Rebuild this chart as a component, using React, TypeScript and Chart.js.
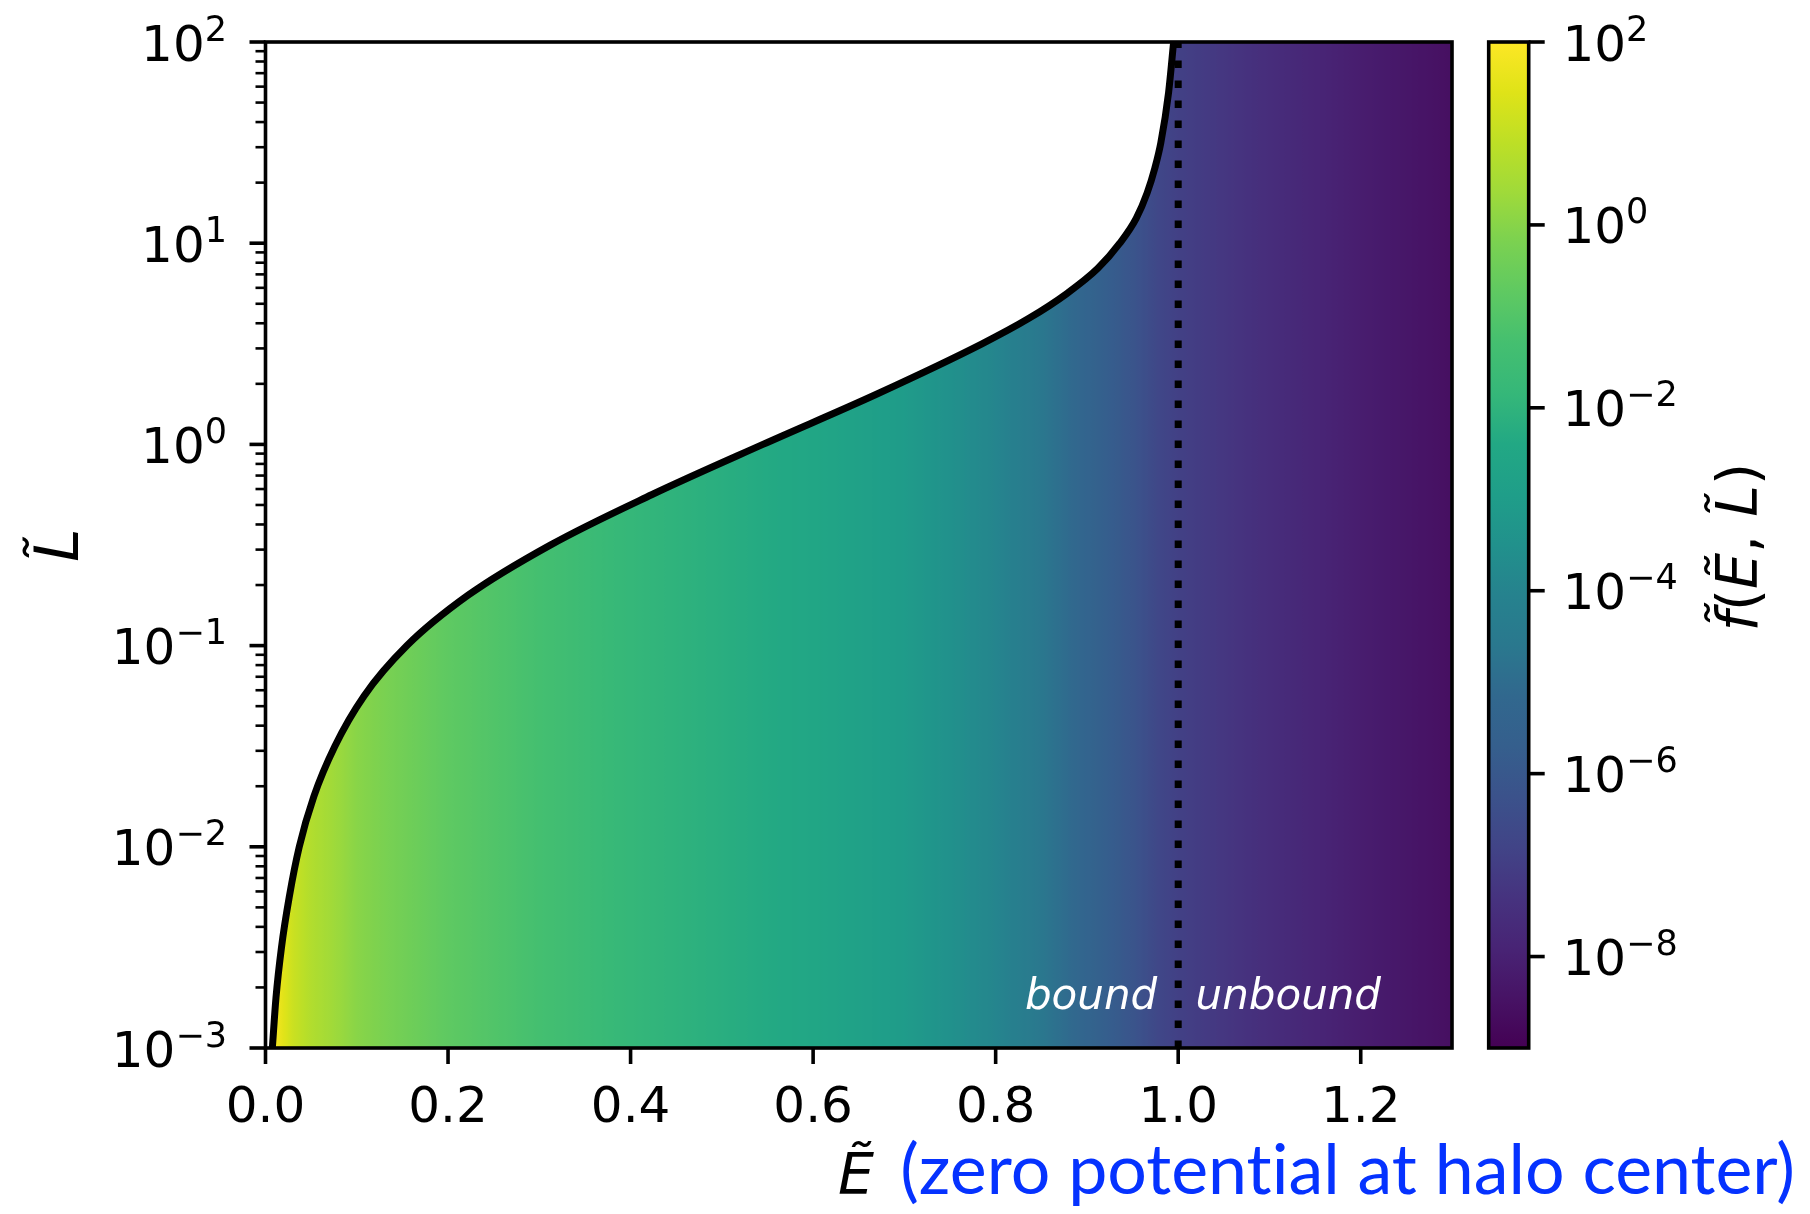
import React, { useEffect, useRef } from 'react';
import { Chart, registerables } from 'chart.js';

Chart.register(...registerables);

// ---------------- data ----------------
// boundary of allowed region: maximum angular momentum L~ at each energy E~
const curveE = [0.0075, 0.0115, 0.0175, 0.026, 0.037, 0.053, 0.076, 0.108, 0.155, 0.222, 0.312, 0.423, 0.545, 0.67, 0.785, 0.836, 0.878, 0.912, 0.936, 0.954, 0.966, 0.9745, 0.981, 0.9895, 0.995];
const curveL = [0.001, 0.00178, 0.00316, 0.00562, 0.01, 0.0178, 0.0316, 0.0562, 0.1, 0.178, 0.316, 0.562, 1, 1.78, 3.16, 4.22, 5.62, 7.5, 10, 13.3, 17.8, 23.7, 31.6, 56.2, 100];

// distribution function f~(E~) sampled along energy (colour of the map)
const gridE = [0.008, 0.015, 0.03, 0.05, 0.1, 0.2, 0.3, 0.4, 0.5, 0.6, 0.7, 0.75, 0.8, 0.85, 0.9, 0.95, 0.98, 1.0, 1.05, 1.1, 1.2, 1.3];
const gridF = [100, 47, 13, 4.8, 1.05, 0.18, 0.05, 0.014, 0.0066, 0.0031, 8.7e-4, 3.2e-4, 1.15e-4, 2.5e-5, 4.3e-6, 7.2e-7, 2.0e-7, 1.23e-7, 5.8e-8, 2.7e-8, 7.6e-9, 2.75e-9];

const xTicks = [0, 0.2, 0.4, 0.6, 0.8, 1.0, 1.2];
const xTickLabels = ['0.0', '0.2', '0.4', '0.6', '0.8', '1.0', '1.2'];
const yTickExponents = [-3, -2, -1, 0, 1, 2];
const cbarTickExponents = [-8, -6, -4, -2, 0, 2];

const boundaryE = 1.0;
const boundLabelE = 0.977;
const unboundLabelE = 1.019;
const labelL = 1.56e-3;

const xMin = 0, xMax = 1.3;
const yMin = 1e-3, yMax = 1e2;
const cMin = 1e-9, cMax = 1e2;

// ---------------- styling helpers ----------------
const VIRIDIS = ['#440154', '#471365', '#482475', '#46337f', '#414487', '#3b528b', '#355f8d', '#31688e', '#2a788e', '#26828e', '#21918c', '#1f9e89', '#22a884', '#35b779', '#44bf70', '#5ec962', '#7ad151', '#9fda3a', '#bddf26', '#dfe318', '#fde725'];

function hexToRgb(h: string): number[] {
  return [parseInt(h.slice(1, 3), 16), parseInt(h.slice(3, 5), 16), parseInt(h.slice(5, 7), 16)];
}
const VIR_RGB = VIRIDIS.map(hexToRgb);

function viridis(t: number): string {
  t = Math.min(1, Math.max(0, t));
  const n = VIR_RGB.length - 1;
  const p = t * n;
  const i = Math.min(n - 1, Math.floor(p));
  const f = p - i;
  const a = VIR_RGB[i], b = VIR_RGB[i + 1];
  const c = [0, 1, 2].map((k) => Math.round(a[k] + (b[k] - a[k]) * f));
  return `rgb(${c[0]},${c[1]},${c[2]})`;
}

const logGridF = gridF.map((v) => Math.log10(v));
function logFAt(e: number): number {
  if (e <= gridE[0]) return logGridF[0];
  const last = gridE.length - 1;
  if (e >= gridE[last]) return logGridF[last];
  for (let i = 0; i < last; i++) {
    if (e >= gridE[i] && e <= gridE[i + 1]) {
      const f = (e - gridE[i]) / (gridE[i + 1] - gridE[i]);
      return logGridF[i] + (logGridF[i + 1] - logGridF[i]) * f;
    }
  }
  return logGridF[last];
}
const lcMin = Math.log10(cMin), lcMax = Math.log10(cMax);

let gradCache: { key: string; g: CanvasGradient } | null = null;
function fillGradient(context: any) {
  const chart = context.chart;
  const { ctx, chartArea, scales } = chart;
  if (!chartArea || !scales.x) return 'rgba(0,0,0,0)';
  const x0 = scales.x.getPixelForValue(xMin);
  const x1 = scales.x.getPixelForValue(xMax);
  const key = `${x0}-${x1}`;
  if (gradCache && gradCache.key === key) return gradCache.g;
  const g = ctx.createLinearGradient(x0, 0, x1, 0);
  const N = 400;
  for (let i = 0; i <= N; i++) {
    const e = xMin + ((xMax - xMin) * i) / N;
    const t = (logFAt(e) - lcMin) / (lcMax - lcMin);
    g.addColorStop(i / N, viridis(t));
  }
  gradCache = { key, g };
  return g;
}

const TICK_FONT = '"DejaVu Sans", sans-serif';

function drawSci(ctx: CanvasRenderingContext2D, exp: number, x: number, y: number, align: 'left' | 'right') {
  const base = '10';
  const sup = exp < 0 ? '\u2212' + Math.abs(exp) : String(exp);
  ctx.font = `50px ${TICK_FONT}`;
  const wb = ctx.measureText(base).width;
  ctx.font = `35px ${TICK_FONT}`;
  const ws = ctx.measureText(sup).width;
  const x0 = align === 'right' ? x - wb - ws : x;
  const bl = y + 18.5;
  ctx.textAlign = 'left';
  ctx.textBaseline = 'alphabetic';
  ctx.font = `50px ${TICK_FONT}`;
  ctx.fillText(base, x0, bl);
  ctx.font = `35px ${TICK_FONT}`;
  ctx.fillText(sup, x0 + wb, bl - 20);
}

function drawPieces(ctx: CanvasRenderingContext2D, pieces: [string, boolean][], size: number) {
  let total = 0;
  const widths = pieces.map(([s, it]) => {
    ctx.font = `${it ? 'italic ' : ''}${size}px ${TICK_FONT}`;
    const w = ctx.measureText(s).width;
    total += w;
    return w;
  });
  let x = -total / 2;
  ctx.textAlign = 'left';
  pieces.forEach(([s, it], i) => {
    ctx.font = `${it ? 'italic ' : ''}${size}px ${TICK_FONT}`;
    ctx.fillText(s, x, 0);
    x += widths[i];
  });
}

const CB_LEFT = 1488.7;
const CB_RIGHT = 1528.7;
const SPINE = 3.6;

const decorPlugin = {
  id: 'decor',
  afterDraw(chart: any) {
    const { ctx, chartArea: a, scales } = chart;
    const xs = scales.x, ys = scales.y, cs = scales.c;
    ctx.save();

    // annotations
    ctx.fillStyle = '#ffffff';
    ctx.font = `italic 42px ${TICK_FONT}`;
    ctx.textBaseline = 'alphabetic';
    ctx.textAlign = 'right';
    ctx.fillText('bound', xs.getPixelForValue(boundLabelE), ys.getPixelForValue(labelL));
    ctx.textAlign = 'left';
    ctx.fillText('unbound', xs.getPixelForValue(unboundLabelE), ys.getPixelForValue(labelL));

    // frame
    ctx.strokeStyle = '#000';
    ctx.fillStyle = '#000';
    ctx.lineWidth = SPINE;
    ctx.strokeRect(a.left, a.top, a.right - a.left, a.bottom - a.top);

    // x ticks
    xTicks.forEach((v, i) => {
      const px = xs.getPixelForValue(v);
      ctx.lineWidth = SPINE;
      ctx.beginPath();
      ctx.moveTo(px, a.bottom);
      ctx.lineTo(px, a.bottom + 16);
      ctx.stroke();
      ctx.font = `50px ${TICK_FONT}`;
      ctx.textAlign = 'center';
      ctx.textBaseline = 'alphabetic';
      ctx.fillText(xTickLabels[i], px, a.bottom + 74);
    });

    // y ticks
    yTickExponents.forEach((e, idx) => {
      const py = ys.getPixelForValue(Math.pow(10, e));
      ctx.lineWidth = SPINE;
      ctx.beginPath();
      ctx.moveTo(a.left - 16, py);
      ctx.lineTo(a.left, py);
      ctx.stroke();
      drawSci(ctx, e, 227, py, 'right');
      if (idx < yTickExponents.length - 1) {
        ctx.lineWidth = 2.6;
        for (let k = 2; k <= 9; k++) {
          const pm = ys.getPixelForValue(k * Math.pow(10, e));
          ctx.beginPath();
          ctx.moveTo(a.left - 10, pm);
          ctx.lineTo(a.left, pm);
          ctx.stroke();
        }
      }
    });

    // colorbar
    const cTop = cs.getPixelForValue(cMax);
    const cBot = cs.getPixelForValue(cMin);
    const g = ctx.createLinearGradient(0, cBot, 0, cTop);
    VIRIDIS.forEach((c: string, i: number) => g.addColorStop(i / (VIRIDIS.length - 1), c));
    ctx.fillStyle = g;
    ctx.fillRect(CB_LEFT, cTop, CB_RIGHT - CB_LEFT, cBot - cTop);
    ctx.lineWidth = SPINE;
    ctx.strokeStyle = '#000';
    ctx.strokeRect(CB_LEFT, cTop, CB_RIGHT - CB_LEFT, cBot - cTop);
    ctx.fillStyle = '#000';
    cbarTickExponents.forEach((e) => {
      const py = cs.getPixelForValue(Math.pow(10, e));
      ctx.lineWidth = SPINE;
      ctx.beginPath();
      ctx.moveTo(CB_RIGHT, py);
      ctx.lineTo(CB_RIGHT + 16, py);
      ctx.stroke();
      drawSci(ctx, e, 1562.5, py, 'left');
    });

    // x title
    ctx.textBaseline = 'alphabetic';
    ctx.textAlign = 'left';
    ctx.fillStyle = '#000';
    ctx.font = `italic 57px ${TICK_FONT}`;
    ctx.fillText('E\u0303', 838, 1194);
    const blueText = '(zero potential at halo center)';
    try { (ctx as any).textRendering = 'optimizeSpeed'; } catch (err) { /* ignore */ }
    ctx.font = '70px Lato, "Open Sans", sans-serif';
    const w70 = ctx.measureText(blueText).width;
    const fs = (70 * (1795 - 900)) / w70;
    ctx.font = `${fs.toFixed(2)}px Lato, "Open Sans", sans-serif`;
    ctx.fillStyle = '#0532ff';
    ctx.textAlign = 'right';
    ctx.fillText(blueText, 1795, 1194);
    try { (ctx as any).textRendering = 'auto'; } catch (err) { /* ignore */ }

    // y title
    ctx.fillStyle = '#000';
    ctx.save();
    ctx.translate(78, (a.top + a.bottom) / 2);
    ctx.rotate(-Math.PI / 2);
    ctx.font = `italic 60px ${TICK_FONT}`;
    ctx.textAlign = 'center';
    ctx.fillText('L\u0303', 0, 0);
    ctx.restore();

    // colorbar title
    ctx.save();
    ctx.translate(1757, (a.top + a.bottom) / 2 + 2);
    ctx.rotate(-Math.PI / 2);
    drawPieces(ctx, [['f\u0303', true], ['(', false], ['E\u0303', true], [', ', false], ['L\u0303', true], [')', false]], 57);
    ctx.restore();

    ctx.restore();
  },
};

export default function App() {
  const ref = useRef<HTMLCanvasElement | null>(null);
  useEffect(() => {
    if (!ref.current) return;
    const curvePts = curveE.map((e, i) => ({ x: e, y: curveL[i] }));
    const lastE = curveE[curveE.length - 1];
    const chart = new Chart(ref.current, {
      type: 'line',
      data: {
        datasets: [
          {
            label: 'f(E, L) bound region',
            data: curvePts,
            borderColor: 'rgba(0,0,0,0)',
            borderWidth: 1,
            backgroundColor: fillGradient,
            fill: 'start',
            pointRadius: 0,
            cubicInterpolationMode: 'monotone',
            order: 5,
            clip: 0,
          } as any,
          {
            label: 'f(E, L) unbound region',
            data: [{ x: lastE - 0.001, y: yMax }, { x: xMax, y: yMax }],
            borderColor: 'rgba(0,0,0,0)',
            borderWidth: 1,
            backgroundColor: fillGradient,
            fill: 'start',
            pointRadius: 0,
            order: 4,
            clip: 0,
          } as any,
          {
            label: 'L max',
            data: curvePts,
            borderColor: '#000000',
            borderWidth: 7,
            borderJoinStyle: 'round',
            fill: false,
            pointRadius: 0,
            cubicInterpolationMode: 'monotone',
            order: 1,
            clip: 0,
          } as any,
          {
            label: 'E = 1',
            data: [{ x: boundaryE, y: yMin }, { x: boundaryE, y: yMax }],
            borderColor: '#000000',
            borderWidth: 7,
            borderDash: [7.5, 12.5],
            borderCapStyle: 'butt',
            fill: false,
            pointRadius: 0,
            order: 2,
            clip: 0,
          } as any,
        ],
      },
      options: {
        animation: false,
        responsive: false,
        maintainAspectRatio: false,
        events: [],
        layout: { padding: { left: 265.5, top: 42, right: 1810 - 1452, bottom: 1214 - 1048 } },
        plugins: {
          legend: { display: false },
          tooltip: { enabled: false },
          title: { display: false },
        },
        scales: {
          x: { type: 'linear', min: xMin, max: xMax, display: false },
          y: { type: 'logarithmic', min: yMin, max: yMax, display: false },
          c: { type: 'logarithmic', axis: 'y', position: 'right', min: cMin, max: cMax, display: false },
        },
      } as any,
      plugins: [decorPlugin],
    });
    return () => chart.destroy();
  }, []);
  return (
    <div style={{ position: 'absolute', left: 0, top: 0, width: 1810, height: 1214, background: '#fff' }}>
      <canvas ref={ref} width={1810} height={1214} style={{ display: 'block' }} />
    </div>
  );
}
